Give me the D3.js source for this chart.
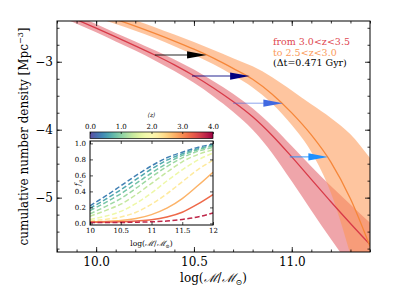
<!DOCTYPE html>
<html><head><meta charset="utf-8">
<script src="https://cdn.jsdelivr.net/npm/d3@7"></script>
<style>
html,body{margin:0;padding:0;background:#fff;}
text{font-family:"DejaVu Serif",serif;}
</style></head>
<body><svg id="c" width="411" height="308"></svg>
<script>
// ---------- data ----------
const massGrid = [9.8,9.9,10.0,10.1,10.2,10.3,10.4,10.5,10.6,10.7,10.8,10.9,11.0,11.1,11.2,11.3,11.4];
const redMid  = [-2.26,-2.38,-2.505,-2.635,-2.765,-2.90,-3.045,-3.205,-3.385,-3.585,-3.81,-4.085,-4.40,-4.73,-5.06,-5.38,-5.69];
const redLo   = [-2.32,-2.44,-2.565,-2.70,-2.835,-2.98,-3.135,-3.31,-3.51,-3.735,-4.00,-4.345,-4.76,-5.19,-5.61,-6.01,-6.40];
const redHi   = [-2.20,-2.32,-2.445,-2.575,-2.70,-2.83,-2.965,-3.115,-3.285,-3.47,-3.685,-3.945,-4.24,-4.54,-4.83,-5.10,-5.37];
const oraMid  = [-2.105,-2.19,-2.28,-2.375,-2.475,-2.582,-2.695,-2.815,-2.947,-3.097,-3.257,-3.477,-3.752,-4.077,-4.477,-5.017,-5.717];
const oraLo   = [-2.175,-2.26,-2.35,-2.445,-2.545,-2.652,-2.77,-2.895,-3.037,-3.197,-3.377,-3.617,-3.932,-4.327,-4.927,-5.837,-6.92];
const oraHi   = [-2.04,-2.12,-2.205,-2.295,-2.39,-2.492,-2.60,-2.71,-2.827,-2.947,-3.067,-3.227,-3.422,-3.627,-3.827,-4.067,-4.417];

const arrowY     = [-2.90,-3.21,-3.61,-4.40];
const arrowFrom  = [10.30,10.49,10.70,10.99];
const arrowTo    = [10.565,10.785,10.955,11.185];
const arrowColor = ["#000000","#000080","#4169e1","#1e90ff"];

const xTicks = [10.0,10.5,11.0];
const yTicks = [-3,-4,-5];
const legendLines = ["from 3.0<z<3.5","to 2.5<z<3.0","(\u0394t=0.471 Gyr)"];

// inset
const fqMass = [10,10.25,10.5,10.75,11,11.25,11.5,11.75,12];
const fqZ    = [0.35,0.625,0.875,1.125,1.375,1.75,2.25,2.75,3.25,3.75];
const fqSolid= [false,false,false,false,false,false,false,true,true,false];
const fqVals = [
 [0.22,0.34,0.47,0.60,0.72,0.82,0.89,0.95,0.99],
 [0.19,0.30,0.42,0.55,0.68,0.79,0.87,0.93,0.98],
 [0.16,0.26,0.37,0.50,0.63,0.75,0.85,0.92,0.97],
 [0.12,0.21,0.31,0.44,0.58,0.71,0.82,0.90,0.95],
 [0.09,0.16,0.24,0.36,0.50,0.64,0.77,0.86,0.92],
 [0.05,0.09,0.15,0.25,0.38,0.53,0.67,0.79,0.88],
 [0.03,0.05,0.08,0.14,0.24,0.37,0.52,0.67,0.79],
 [0.02,0.025,0.035,0.06,0.11,0.19,0.31,0.47,0.64],
 [0.015,0.017,0.02,0.03,0.045,0.08,0.14,0.24,0.36],
 [0.01,0.01,0.012,0.015,0.02,0.03,0.05,0.08,0.13]
];
const insetXTicks = [10,10.5,11,11.5,12];
const insetYTicks = [0,0.2,0.4,0.6,0.8,1.0];
const cbarTicks = [0,1,2,3,4];

// ---------- drawing ----------
const svg = d3.select("#c");
const L=57,R=370,T=21,B=252;
const x = d3.scaleLinear([9.8,11.4],[L,R]);
const y = d3.scaleLinear([-5.8,-2.4],[B,T]);
const fmtMinus = d=>d3.format(".0f")(d).replace("-","\u2212");

svg.append("clipPath").attr("id","clipMain").append("rect").attr("x",L).attr("y",T).attr("width",R-L).attr("height",B-T);
const plot = svg.append("g").attr("clip-path","url(#clipMain)");

const rows = (mid,lo,hi)=>massGrid.map((m,i)=>({m,mid:mid[i],lo:lo[i],hi:hi[i]}));
const redRows = rows(redMid,redLo,redHi), oraRows = rows(oraMid,oraLo,oraHi);
const area = d3.area().x(d=>x(d.m)).y0(d=>y(d.lo)).y1(d=>y(d.hi)).curve(d3.curveMonotoneX);
const line = d3.line().x(d=>x(d.m)).y(d=>y(d.mid)).curve(d3.curveMonotoneX);

plot.append("path").attr("d",area(redRows)).attr("fill","rgb(228,105,114)").attr("fill-opacity",0.6);
plot.append("path").attr("d",area(oraRows)).attr("fill","rgb(253,150,80)").attr("fill-opacity",0.55);
plot.append("path").attr("d",line(redRows)).attr("fill","none").attr("stroke","#d83a48").attr("stroke-width",1.3);
plot.append("path").attr("d",line(oraRows)).attr("fill","none").attr("stroke","#f6873a").attr("stroke-width",1.3);

// arrows
arrowY.forEach((yy,i)=>{
  const x0=x(arrowFrom[i]), x1=x(arrowTo[i]), py=y(yy);
  const hl = x(arrowTo[i]) - x(arrowTo[i]-0.1);
  const hw = 3.6;
  plot.append("line").attr("x1",x0).attr("x2",x1-hl+1).attr("y1",py).attr("y2",py)
    .attr("stroke",arrowColor[i]).attr("stroke-width",1.1).attr("stroke-opacity",i==2?0.55:0.85);
  plot.append("path").attr("d",`M${x1-hl},${py-hw}L${x1},${py}L${x1-hl},${py+hw}Z`).attr("fill",arrowColor[i]);
});

// axes
function ax(gen,tr){return svg.append("g").attr("transform",tr).call(gen);}
const minorX = d3.range(9.8,11.41,0.1).map(v=>+v.toFixed(2));
const minorY = d3.range(-5.75,-2.4,0.25).map(v=>+v.toFixed(2));
const styleAxis = g=>{g.select(".domain").remove();g.selectAll("line").attr("stroke","#000").attr("stroke-width",0.8);g.selectAll("text").attr("font-family","DejaVu Serif").attr("font-size",12).attr("fill","#000");};
ax(d3.axisBottom(x).tickValues(xTicks).tickSize(-5).tickPadding(5).tickFormat(d3.format(".1f")),`translate(0,${B})`).call(styleAxis);
ax(d3.axisBottom(x).tickValues(minorX).tickSize(-2.5).tickFormat(""),`translate(0,${B})`).call(styleAxis);
ax(d3.axisTop(x).tickValues(xTicks).tickSize(-5).tickFormat(""),`translate(0,${T})`).call(styleAxis);
ax(d3.axisTop(x).tickValues(minorX).tickSize(-2.5).tickFormat(""),`translate(0,${T})`).call(styleAxis);
ax(d3.axisLeft(y).tickValues(yTicks).tickSize(-5).tickPadding(4).tickFormat(fmtMinus),`translate(${L},0)`).call(styleAxis);
ax(d3.axisLeft(y).tickValues(minorY).tickSize(-2.5).tickFormat(""),`translate(${L},0)`).call(styleAxis);
ax(d3.axisRight(y).tickValues(yTicks).tickSize(-5).tickFormat(""),`translate(${R},0)`).call(styleAxis);
ax(d3.axisRight(y).tickValues(minorY).tickSize(-2.5).tickFormat(""),`translate(${R},0)`).call(styleAxis);
svg.append("rect").attr("x",L).attr("y",T).attr("width",R-L).attr("height",B-T).attr("fill","none").attr("stroke","#000").attr("stroke-width",1);

// labels
const xl = svg.append("text").attr("x",(L+R)/2).attr("y",282).attr("text-anchor","middle").attr("font-size",12);
xl.append("tspan").text("log(");
xl.append("tspan").attr("font-style","italic").text("\u2133");
xl.append("tspan").text("/");
xl.append("tspan").attr("font-style","italic").text("\u2133");
xl.append("tspan").attr("font-size",8).attr("dy",3).text("\u2299");
xl.append("tspan").attr("dy",-3).text(")");

const yl = svg.append("text").attr("transform",`translate(28,${(T+B)/2}) rotate(-90)`).attr("text-anchor","middle").attr("font-size",12);
yl.append("tspan").text("cumulative number density [Mpc");
yl.append("tspan").attr("font-size",8).attr("dy",-5).text("\u22123");
yl.append("tspan").attr("dy",5).text("]");

const legColors = ["#e0474f","#fb9a5b","#000"];
legendLines.forEach((t,i)=>svg.append("text").attr("x",273).attr("y",45+i*10.5).attr("font-size",9.5).attr("fill",legColors[i]).text(t));

// ---------- inset ----------
const iL=90,iR=213,iT=141,iB=225;
const xi = d3.scaleLinear([10,12],[iL,iR]);
const yi = d3.scaleLinear([-0.02,1.03],[iB,iT]);
svg.append("rect").attr("x",iL).attr("y",iT).attr("width",iR-iL).attr("height",iB-iT).attr("fill","#fff");
svg.append("clipPath").attr("id","clipIn").append("rect").attr("x",iL).attr("y",iT).attr("width",iR-iL).attr("height",iB-iT);
const ig = svg.append("g").attr("clip-path","url(#clipIn)");
const cmap = z=>d3.interpolateSpectral(1-z/4);
const iline = d3.line().x((d,i)=>xi(fqMass[i])).y(d=>yi(d)).curve(d3.curveMonotoneX);
fqVals.forEach((vals,k)=>{
  ig.append("path").attr("d",iline(vals)).attr("fill","none").attr("stroke",cmap(fqZ[k]))
    .attr("stroke-width",1.5).attr("stroke-dasharray",fqSolid[k]?null:"5,2.5");
});
const styleIn = g=>{g.select(".domain").remove();g.selectAll("line").attr("stroke","#000").attr("stroke-width",0.7);g.selectAll("text").attr("font-family","DejaVu Serif").attr("font-size",7).attr("fill","#000");};
ax(d3.axisBottom(xi).tickValues(insetXTicks).tickSize(-3).tickPadding(3).tickFormat(d=>String(d)),`translate(0,${iB})`).call(styleIn);
ax(d3.axisTop(xi).tickValues(insetXTicks).tickSize(-3).tickFormat(""),`translate(0,${iT})`).call(styleIn);
ax(d3.axisLeft(yi).tickValues(insetYTicks).tickSize(-3).tickPadding(4).tickFormat(d3.format(".1f")),`translate(${iL},0)`).call(styleIn);
ax(d3.axisRight(yi).tickValues(insetYTicks).tickSize(-3).tickFormat(""),`translate(${iR},0)`).call(styleIn);
svg.append("rect").attr("x",iL).attr("y",iT).attr("width",iR-iL).attr("height",iB-iT).attr("fill","none").attr("stroke","#000").attr("stroke-width",1);

const ixl = svg.append("text").attr("x",(iL+iR)/2).attr("y",246).attr("text-anchor","middle").attr("font-size",7.5);
ixl.append("tspan").text("log(");
ixl.append("tspan").attr("font-style","italic").text("\u2133");
ixl.append("tspan").text("/");
ixl.append("tspan").attr("font-style","italic").text("\u2133");
ixl.append("tspan").attr("font-size",5).attr("dy",2).text("\u2299");
ixl.append("tspan").attr("dy",-2).text(")");
const fq = svg.append("text").attr("transform",`translate(80,${(iT+iB)/2}) rotate(-90)`).attr("text-anchor","middle").attr("font-size",7.5).attr("font-style","italic");
fq.append("tspan").text("f");
fq.append("tspan").attr("font-size",5).attr("dy",1.5).text("q");

// colorbar
const cb = d3.scaleLinear([0,4],[iL,iR]);
const grad = svg.append("defs").append("linearGradient").attr("id","cbg");
d3.range(0,1.001,0.05).forEach(t=>grad.append("stop").attr("offset",t).attr("stop-color",cmap(t*4)));
svg.append("rect").attr("x",iL).attr("y",132).attr("width",iR-iL).attr("height",6.5).attr("fill","url(#cbg)").attr("stroke","#000").attr("stroke-width",0.7);
ax(d3.axisTop(cb).tickValues(cbarTicks).tickSize(-2).tickPadding(3).tickFormat(d3.format(".1f")),`translate(0,132)`).call(styleIn);
svg.append("text").attr("x",(iL+iR)/2).attr("y",117).attr("text-anchor","middle").attr("font-size",6).attr("font-style","italic").text("\u27E8z\u27E9");
</script></body></html>
